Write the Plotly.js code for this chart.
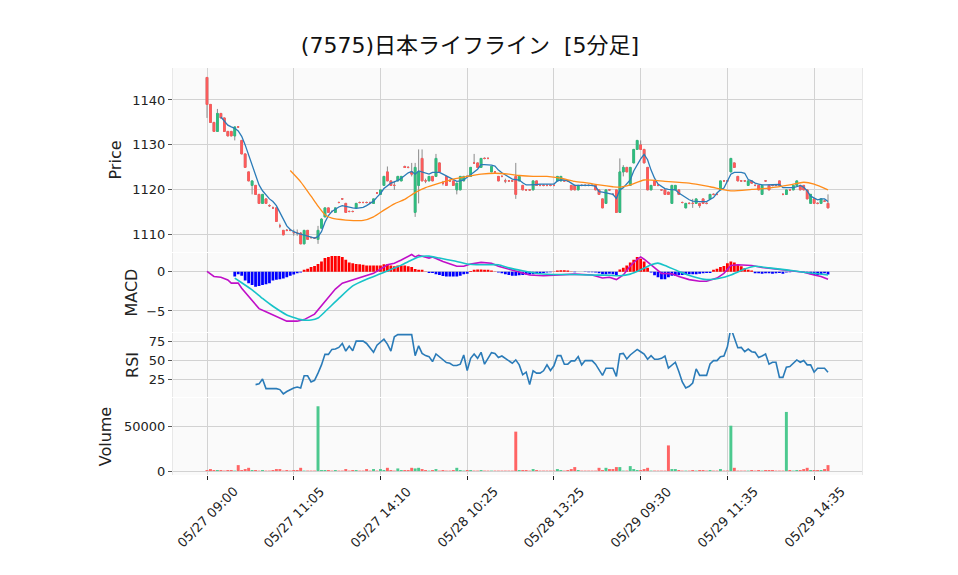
<!DOCTYPE html>
<html>
<head>
<meta charset="utf-8">
<script src="https://cdn.plot.ly/plotly-3.0.1.min.js"></script>
<style>
html, body { margin: 0; padding: 0; background: #fff; }
#chart { width: 958px; height: 575px; }
</style>
</head>
<body>
<div id="chart"></div>
<script>
// 5-minute bars, 05/27 09:00 .. 05/29 close (180 bars, x = bar index)
const tickIdx = [0, 25, 50, 75, 100, 125, 150, 175];
const tickText = ['05/27 09:00', '05/27 11:05', '05/27 14:10', '05/28 10:25',
                  '05/28 13:25', '05/29 09:30', '05/29 11:35', '05/29 14:35'];

const open = [
  1145, 1139, 1135, 1133, 1137, 1136, 1133, 1133, 1132, 1134,
  1131, 1128, 1124, 1121, 1121, 1119, 1117, 1118, 1116.5, 1116,
  1116, 1112, 1111, 1111, 1111, 1110.5, 1110.5, 1110.4, 1108, 1111,
  1109.4, 1109.3, 1109, 1111.5, 1114, 1116, 1115.2, 1115, 1117.2, 1118,
  1117, 1115.2, 1115.2, 1116, 1117.2, 1117.2, 1117.2, 1117.2, 1117, 1119.3,
  1119, 1121, 1124, 1122, 1121, 1122, 1122, 1125.2, 1125, 1124,
  1115, 1121, 1127, 1122, 1122, 1123, 1123, 1126, 1121.5, 1123,
  1122, 1122, 1120, 1120, 1122, 1123, 1123, 1126, 1126, 1125,
  1127, 1127, 1124, 1124, 1123, 1123, 1122, 1122, 1122, 1123,
  1122, 1121, 1120, 1120, 1120, 1122, 1121, 1121, 1121, 1121,
  1121, 1122, 1122, 1122, 1122, 1121, 1121, 1120, 1121, 1121,
  1121, 1121, 1121, 1120, 1118, 1117, 1120, 1119, 1120, 1115,
  1124, 1125, 1121, 1126, 1129, 1130, 1129, 1125, 1120, 1122,
  1121, 1120, 1120, 1119.5, 1117, 1120, 1120, 1117.2, 1116, 1117,
  1117, 1117, 1117, 1118, 1117, 1118, 1119, 1119, 1120, 1122,
  1122, 1124, 1126, 1123, 1122, 1122, 1121, 1122, 1121, 1121,
  1119, 1122, 1121, 1121, 1121, 1122, 1119, 1119, 1120, 1120,
  1121, 1121, 1121, 1120, 1117, 1118, 1117, 1117, 1117.5, 1117
];
const close = [
  1139, 1135, 1133, 1137, 1136, 1133, 1132, 1132, 1134, 1134,
  1128, 1125, 1122, 1122, 1119, 1117, 1119, 1117, 1116.5, 1116,
  1113, 1112, 1110, 1111, 1111, 1110.5, 1110.5, 1108, 1111, 1109,
  1109.4, 1109.3, 1111, 1113.5, 1116, 1115, 1115.2, 1116, 1117.2, 1118,
  1115, 1115.2, 1115.2, 1117, 1117.2, 1117.2, 1117.2, 1117.2, 1118, 1119.3,
  1120, 1123, 1122, 1121, 1121, 1123, 1123, 1125, 1125, 1123.5,
  1125, 1124, 1122, 1122, 1123, 1122, 1127, 1124, 1121.5, 1121,
  1122, 1121, 1121.5, 1123, 1123, 1123, 1125, 1126, 1125, 1127,
  1127, 1127, 1125.2, 1124, 1122, 1123, 1122, 1122, 1122, 1119,
  1123, 1120, 1120, 1120, 1122, 1121, 1121, 1121, 1121, 1121,
  1121, 1123, 1123, 1122, 1122, 1120, 1120, 1121, 1121, 1121,
  1121, 1121, 1120, 1119, 1116, 1120, 1120, 1119, 1115, 1124,
  1125, 1124, 1125, 1129, 1131, 1129, 1126, 1120, 1121, 1121,
  1121, 1120, 1119, 1119, 1121, 1121, 1119, 1117.2, 1117, 1117,
  1117, 1118, 1116.5, 1117, 1117, 1119, 1119, 1119, 1122, 1122,
  1122, 1127, 1125, 1122, 1122, 1122, 1122, 1121.5, 1121, 1120,
  1121, 1122, 1120, 1121, 1121, 1121, 1119, 1120, 1120, 1121,
  1122, 1120, 1120, 1118, 1119, 1117, 1117, 1118, 1117.5, 1116
];
const high = [
  1145.1, 1139, 1135, 1138, 1137, 1136, 1133, 1133, 1134, 1134.2,
  1131, 1128, 1124, 1122, 1121, 1119, 1119, 1118, 1116.8, 1116.3,
  1116, 1112.5, 1111, 1111.3, 1111.3, 1111.2, 1111.2, 1110.6, 1111, 1111,
  1109.6, 1109.5, 1112, 1113.7, 1116, 1116, 1115.4, 1116, 1117.4, 1118.2,
  1117, 1115.4, 1115.4, 1117, 1117.4, 1117.4, 1117.4, 1117.4, 1118, 1119.5,
  1120, 1123, 1125.2, 1122, 1122, 1123, 1123, 1125.4, 1125.2, 1126,
  1126, 1129, 1129, 1122.5, 1123, 1123, 1128, 1126, 1122, 1123,
  1122.3, 1122, 1121.5, 1123, 1123, 1123.2, 1125, 1128, 1126, 1127,
  1127.2, 1127.2, 1125.2, 1124.2, 1123, 1123.2, 1122.5, 1122.2, 1122.2, 1126,
  1123, 1121, 1120.2, 1120.2, 1122, 1122, 1121.2, 1121.2, 1121.2, 1121.2,
  1121.2, 1123, 1123, 1122.2, 1122.2, 1121, 1121, 1121, 1121.2, 1121.2,
  1121.2, 1121.2, 1121, 1120, 1118, 1120, 1120.2, 1119.2, 1120, 1127,
  1125.5, 1125, 1125, 1129, 1131, 1131, 1129, 1125, 1121, 1122,
  1121.2, 1120.2, 1120, 1119.5, 1121, 1121, 1120, 1117.4, 1117, 1117.2,
  1118, 1118, 1117, 1118, 1117.2, 1119, 1119.2, 1119.2, 1122, 1122.2,
  1122.2, 1127, 1126, 1123, 1122.2, 1122.2, 1122, 1122, 1121.2, 1121,
  1121, 1122.2, 1121, 1121.2, 1121.2, 1122, 1119.2, 1120, 1120.2, 1121,
  1122, 1121, 1121, 1120, 1119, 1118, 1117.2, 1118, 1117.7, 1119
];
const low = [
  1136, 1135, 1133, 1133, 1136, 1133, 1132, 1132, 1131, 1133.8,
  1128, 1125, 1122, 1119, 1119, 1117, 1117, 1117, 1116.2, 1115.8,
  1113, 1111.5, 1110, 1110.8, 1110.8, 1109.8, 1109.8, 1108, 1108, 1109,
  1109.2, 1109.1, 1108, 1111.5, 1114, 1115, 1115, 1115, 1117, 1117.8,
  1115, 1115, 1115, 1116, 1117, 1117, 1117, 1117, 1117, 1119.1,
  1119, 1121, 1122, 1121, 1120, 1122, 1122, 1125, 1124.8, 1123,
  1114, 1117, 1122, 1121.5, 1122, 1122, 1123, 1124, 1121, 1121,
  1121.8, 1121, 1119, 1120, 1122, 1122.8, 1123, 1125.8, 1125, 1125,
  1126.8, 1126.8, 1124, 1123.8, 1122, 1122.8, 1121.5, 1121.8, 1121.8, 1118,
  1122, 1120, 1119.8, 1119.8, 1120, 1121, 1120.8, 1120.8, 1120.8, 1120.8,
  1120.8, 1122, 1122, 1121.8, 1121.8, 1120, 1120, 1120, 1120.8, 1120.8,
  1120.8, 1120.8, 1120, 1119, 1116, 1117, 1119.8, 1118.8, 1115, 1115,
  1123, 1124, 1121, 1126, 1129, 1129, 1126, 1120, 1120, 1121,
  1120.8, 1119.8, 1119, 1119, 1117, 1120, 1119, 1117, 1116, 1116.8,
  1116, 1117, 1116, 1117, 1116.8, 1118, 1118.8, 1118.8, 1120, 1121.8,
  1121.8, 1124, 1125, 1122, 1121.8, 1121.8, 1121, 1121.5, 1120.8, 1120,
  1119, 1121.8, 1120, 1120.8, 1120.8, 1121, 1118.8, 1119, 1119.8, 1120,
  1121, 1120, 1120, 1118, 1117, 1117, 1116.8, 1117, 1117.3, 1116
];

// moving averages (5 and 25 bars)
const ma5 = [
  null, null, null, null, 1136.2, 1135.2, 1134.4, 1134.0, 1133.7, 1133.1,
  1131.9, 1130.0, 1127.8, 1125.6, 1123.3, 1121.1, 1119.8, 1118.8, 1118.0, 1117.4,
  1116.5, 1115.0, 1113.3, 1112.0, 1111.2, 1110.7, 1110.4, 1110.2, 1110.0, 1109.8,
  1109.5, 1109.3, 1109.6, 1110.7, 1112.8, 1114.3, 1115.2, 1115.8, 1116.2, 1116.5,
  1116.3, 1116.1, 1116.0, 1115.9, 1116.0, 1116.1, 1116.5, 1117.0, 1117.5, 1118.4,
  1119.2, 1120.3, 1121.0, 1121.5, 1121.8, 1122.1, 1122.6, 1123.3, 1123.8, 1124.1,
  1123.5, 1124.2, 1124.0, 1123.8, 1123.5, 1123.9, 1123.9, 1123.9, 1123.5, 1123.1,
  1122.6, 1122.2, 1121.9, 1122.0, 1122.2, 1122.8, 1123.3, 1124.0, 1124.6, 1125.6,
  1125.6, 1125.6, 1125.5, 1125.3, 1124.4, 1123.8, 1123.3, 1122.8, 1122.4, 1122.3,
  1122.2, 1121.6, 1121.1, 1121.1, 1121.1, 1121.2, 1121.3, 1121.3, 1121.3, 1121.3,
  1121.3, 1122.0, 1122.2, 1122.2, 1122.0, 1121.5, 1121.0, 1121.0, 1121.0, 1121.0,
  1121.0, 1121.0, 1120.8, 1119.6, 1119.5, 1119.3, 1119.2, 1119.0, 1118.1, 1120.0,
  1120.5, 1121.3, 1122.2, 1124.2, 1125.6, 1126.9, 1127.9, 1126.7, 1124.4, 1122.6,
  1121.3, 1120.7, 1120.3, 1120.1, 1120.0, 1120.0, 1119.3, 1118.8, 1118.3, 1117.8,
  1117.5, 1117.4, 1117.4, 1117.4, 1117.4, 1117.9, 1118.3, 1119.3, 1120.0, 1120.4,
  1122.0, 1123.5, 1123.9, 1123.9, 1123.9, 1123.7, 1122.3, 1122.0, 1121.5, 1121.3,
  1121.1, 1121.1, 1121.1, 1121.1, 1121.2, 1121.2, 1120.5, 1120.5, 1120.5, 1120.5,
  1120.7, 1121.0, 1120.6, 1119.8, 1118.6, 1118.2, 1117.8, 1118.0, 1118.0, 1117.4
];
const ma25Idx = [24, 27, 30, 32, 34, 36, 40, 45, 48, 51, 54, 57, 60, 63, 67, 71, 75, 79, 83, 87,
                 90, 94, 98, 102, 106, 110, 113, 117, 119, 122, 126, 132, 139, 145, 151, 157, 162, 168, 172, 175, 179];
const ma25 = [1124.3, 1121.8, 1118.6, 1116.4, 1114.5, 1113.7, 1113.3, 1113.2, 1114.0, 1115.5,
              1116.9, 1117.9, 1119.4, 1120.5, 1121.5, 1122.4, 1123.0, 1123.5, 1123.7, 1123.5,
              1123.2, 1123.0, 1123.0, 1122.6, 1121.9, 1121.5, 1121.1, 1120.7, 1120.6, 1121.1,
              1122.2, 1121.9, 1121.5, 1120.7, 1119.8, 1120.1, 1120.4, 1121.1, 1121.7, 1121.3, 1120.0];

// MACD panel
const macdIdx = [0, 2, 4, 6, 7, 9, 10, 13, 15, 17, 20, 23, 26, 28, 31, 34, 37, 39, 42, 45,
                 48, 52, 54, 56, 59, 60, 61, 64, 65, 68, 72, 74, 76, 79, 82, 84, 88, 93, 97, 101,
                 106, 111, 114, 116, 118, 120, 122, 124, 125, 126, 128, 131, 134, 136, 139, 142, 144, 147, 149, 151,
                 153, 157, 160, 164, 168, 172, 175, 177, 179];
const macd = [0.05, -0.6, -0.7, -1.05, -1.45, -1.45, -2.1, -3.7, -4.7, -5.1, -5.7, -6.3, -6.3, -6.1, -5.4, -3.8, -2.2, -1.45, -1.0, -0.6,
              -0.2, 0.9, 1.1, 1.5, 2.2, 1.9, 2.1, 1.75, 1.9, 1.3, 0.7, 0.7, 1.0, 1.2, 1.1, 0.7, 0.25, -0.4, -0.5, -0.4,
              -0.3, -0.4, -0.8, -0.7, -1.0, -0.4, 0.75, 1.6, 1.9, 1.6, 0.9, -0.2, -0.25, -0.6, -1.0, -1.2, -1.2, -0.8, -0.2, 0.8,
              0.9, 0.8, 0.55, 0.35, 0.17, -0.05, -0.4, -0.6, -0.95];
const signalIdx = [8, 10, 13, 16, 19, 23, 27, 30, 32, 34, 38, 42, 46, 50, 54, 56, 59, 61, 64, 67,
                   71, 75, 79, 84, 87, 91, 96, 101, 106, 110, 116, 119, 122, 125, 128, 130, 132, 136, 140, 144,
                   148, 151, 155, 158, 162, 167, 172, 176, 179];
const signal = [-0.8, -1.4, -2.3, -3.4, -4.4, -5.5, -6.1, -6.15, -5.9, -5.1, -3.4, -1.8, -0.95, -0.25, 0.47, 0.85, 1.5, 1.9, 2.0, 1.75,
                1.4, 1.0, 0.9, 0.9, 0.5, 0.13, -0.25, -0.35, -0.35, -0.4, -0.45, -0.5, -0.3, 0.25, 0.9, 1.1, 0.8, 0.05, -0.6, -1.0,
                -0.8, -0.4, 0.35, 0.7, 0.5, 0.25, -0.05, -0.25, -0.4];
const hist = [
  null, null, null, null, null, null, null, null, -0.6, -0.3,
  -0.5, -1.1, -1.45, -1.7, -1.9, -1.8, -1.7, -1.6, -1.45, -1.1,
  -1.0, -0.95, -0.85, -0.7, -0.5, -0.35, -0.2, -0.1, 0.25, 0.4,
  0.6, 0.75, 1.0, 1.3, 1.75, 1.9, 2.0, 2.0, 2.0, 1.9,
  1.55, 1.2, 1.1, 1.0, 0.95, 0.9, 0.8, 0.8, 0.8, 0.8,
  0.8, 0.95, 0.95, 0.8, 0.7, 0.8, 0.8, 0.8, 0.7, 0.6,
  0.35, 0.25, 0.25, 0.05, -0.15, -0.15, -0.3, -0.4, -0.55, -0.6,
  -0.6, -0.6, -0.6, -0.5, -0.3, -0.25, 0.1, 0.25, 0.3, 0.3,
  0.25, 0.25, 0.15, 0.05, -0.1, -0.2, -0.3, -0.4, -0.5, -0.5,
  -0.45, -0.4, -0.35, -0.35, -0.3, -0.25, -0.2, -0.15, -0.1, -0.05,
  0.05, 0.15, 0.2, 0.2, 0.15, 0.05, -0.05, 0.02, 0.02, -0.02,
  -0.05, -0.05, -0.1, -0.2, -0.3, -0.3, -0.25, -0.3, -0.4, 0.3,
  0.5, 0.8, 1.2, 1.55, 1.9, 1.65, 1.3, 0.5, -0.1, -0.45,
  -0.7, -0.95, -0.95, -0.7, -0.5, -0.5, -0.45, -0.4, -0.35, -0.3,
  -0.3, -0.3, -0.25, -0.2, -0.15, -0.15, 0.25, 0.4, 0.6, 0.75,
  1.1, 1.3, 1.2, 0.9, 0.7, 0.45, 0.25, 0.15, -0.2, -0.2,
  -0.25, -0.2, -0.2, -0.25, -0.2, -0.15, -0.25, -0.1, -0.05, 0.02,
  0.02, -0.02, -0.05, -0.1, -0.3, -0.4, -0.4, -0.3, -0.2, -0.35
];

// RSI (14)
const rsi = [
  null, null, null, null, null, null, null, null, null, null,
  null, null, null, null, 18, 19, 25.4, 12.7, 12.7, 12.7,
  12.7, 11.4, 5.7, 8.8, 11.4, 13.6, 14.9, 13.6, 29.8, 29.8,
  21.5, 23.7, 33.3, 44.3, 58.3, 58.3, 64.9, 65.4, 67.5, 72.8,
  62.7, 69.3, 63.2, 75.9, 75.9, 75.9, 72.8, 67.5, 61, 70.6,
  74.1, 78.5, 71.9, 62.7, 81.6, 84.6, 84.6, 84.6, 84.6, 84.6,
  56.6, 69.7, 59.6, 56.6, 55.3, 48.7, 58.8, 55.3, 51.8, 47.4,
  46.5, 43.4, 43.4, 45.2, 57.5, 36.8, 53, 58.8, 53, 61,
  45.2, 53, 60.5, 59.6, 54, 56.1, 53, 50, 46.5, 50.9,
  44.3, 31.1, 34.6, 18, 36.4, 33.3, 33.3, 36.4, 44.3, 36.8,
  43, 56.6, 56.6, 45.2, 45.2, 49.6, 49.6, 55.3, 44.3, 50,
  50, 50, 45.2, 38.6, 30.3, 39.9, 39.9, 39.9, 29, 58.8,
  59.6, 52.2, 57.5, 61.8, 64.9, 61.8, 58.8, 51.8, 56.6, 51.8,
  51.8, 53, 56.1, 39.9, 43.4, 47.8, 35.5, 21.5, 13.6, 15.8,
  20.2, 39, 30.3, 30.3, 30.3, 45.6, 50, 50, 55.3, 56.1,
  68.4, 93.4, 81.6, 67.1, 67.5, 61.8, 65.4, 61.8, 61, 54,
  56.1, 58.8, 45.2, 47.8, 47.8, 27.6, 27.6, 41.2, 42.1, 46.5,
  50.9, 47.8, 50, 44.3, 44.3, 34.6, 39.9, 39.9, 39.9, 34.6
];

// volume (shares)
const volume = [
  1100, 2200, 1100, 1100, 1100, 500, 1100, 1100, 500, 6600,
  1100, 2200, 3600, 1100, 1100, 500, 1100, 500, 500, 1100,
  2200, 2200, 500, 1100, 500, 1100, 1100, 3600, 500, 500,
  500, 500, 72000, 1100, 1100, 1100, 500, 1100, 500, 500,
  2200, 500, 1100, 1100, 500, 500, 2200, 500, 2200, 500,
  2200, 1100, 3600, 1100, 500, 2900, 1100, 1100, 1100, 3600,
  2900, 3600, 2200, 1100, 500, 1100, 2200, 500, 1100, 500,
  500, 1100, 3600, 1100, 500, 1100, 1100, 500, 500, 1100,
  500, 500, 500, 500, 500, 500, 500, 500, 500, 43800,
  1100, 1100, 1100, 500, 2200, 1100, 500, 500, 500, 500,
  500, 2200, 1100, 500, 1100, 2200, 4400, 1100, 500, 500,
  500, 500, 500, 3600, 1100, 3600, 2200, 2200, 4400, 4400,
  500, 500, 5500, 2200, 1100, 1100, 2200, 3600, 500, 500,
  500, 500, 500, 28500, 2200, 2200, 1100, 500, 500, 500,
  1100, 500, 1100, 1100, 500, 1100, 500, 500, 2200, 500,
  500, 50400, 3600, 500, 500, 500, 500, 1100, 500, 1100,
  500, 1100, 1100, 1100, 500, 500, 500, 65700, 1100, 500,
  1100, 1100, 2200, 3600, 1100, 1100, 1100, 1100, 2200, 6600
];

const UP = '#2ebd7f';
const DOWN = '#ff5a5a';
const UP_VOL = '#4cc98f';
const DOWN_VOL = '#ff6464';

const idx = close.map((_, i) => i);
const isUp = close.map((c, i) => c > open[i]);

// bodies split by direction so every doji keeps the down colour
function bodyTrace(up) {
  const col = up ? UP : DOWN;
  return {
    type: 'candlestick', x: idx, xaxis: 'x', yaxis: 'y',
    open: open.map((o, i) => isUp[i] === up ? o : null),
    close: close.map((c, i) => isUp[i] === up ? c : null),
    high: close.map((c, i) => isUp[i] === up ? Math.max(c, open[i]) : null),
    low: close.map((c, i) => isUp[i] === up ? Math.min(c, open[i]) : null),
    increasing: {line: {color: col, width: 1}, fillcolor: col},
    decreasing: {line: {color: col, width: 1}, fillcolor: col},
    whiskerwidth: 0, hoverinfo: 'skip', showlegend: false
  };
}

const traces = [
  {
    type: 'candlestick', x: idx, open: open, high: high, low: low, close: close,
    xaxis: 'x', yaxis: 'y',
    increasing: {line: {color: '#8a8a8a', width: 1}, fillcolor: '#8a8a8a'},
    decreasing: {line: {color: '#8a8a8a', width: 1}, fillcolor: '#8a8a8a'},
    whiskerwidth: 0, hoverinfo: 'skip', showlegend: false
  },
  bodyTrace(true),
  bodyTrace(false),
  {type: 'scatter', mode: 'lines', x: idx, y: ma5, xaxis: 'x', yaxis: 'y',
   line: {color: '#2a7bb8', width: 1.3}, connectgaps: false},
  {type: 'scatter', mode: 'lines', x: ma25Idx, y: ma25, xaxis: 'x', yaxis: 'y',
   line: {color: '#ff8c1a', width: 1.3, shape: 'spline', smoothing: 0.6}},
  {type: 'bar', x: idx, y: hist, xaxis: 'x', yaxis: 'y2', width: 0.8,
   marker: {color: hist.map(v => v !== null && v >= 0 ? '#ff0000' : '#0000ff'), line: {width: 0}}},
  {type: 'scatter', mode: 'lines', x: macdIdx, y: macd, xaxis: 'x', yaxis: 'y2',
   line: {color: '#c010c8', width: 1.6}},
  {type: 'scatter', mode: 'lines', x: signalIdx, y: signal, xaxis: 'x', yaxis: 'y2',
   line: {color: '#17c3c8', width: 1.6, shape: 'spline', smoothing: 0.5}},
  {type: 'scatter', mode: 'lines', x: idx, y: rsi, xaxis: 'x', yaxis: 'y3',
   line: {color: '#2a7bb8', width: 1.6}},
  {type: 'bar', x: idx, y: volume, xaxis: 'x', yaxis: 'y4', width: 0.85,
   marker: {color: isUp.map(u => u ? UP_VOL : DOWN_VOL), line: {width: 0}}}
];

// x tick labels: rotated 45 degrees and centred under each tick
const tickLabels = tickIdx.map((v, k) => ({
  x: v, xref: 'x', y: 0, yref: 'paper', yanchor: 'top', xanchor: 'center',
  yshift: -6, text: tickText[k], textangle: -45, showarrow: false,
  font: {size: 13, color: '#222'}
}));

const gridCol = '#d2d2d2';
const baseY = {
  showgrid: true, gridcolor: gridCol, gridwidth: 1, zeroline: false,
  ticks: 'outside', ticklen: 4, tickcolor: '#555', tickfont: {size: 13, color: '#222'},
  showline: true, mirror: true, linecolor: '#e8e8e8', linewidth: 1, fixedrange: true
};

const layout = {
  width: 958, height: 575,
  margin: {l: 173, r: 96, t: 68, b: 100},
  paper_bgcolor: '#ffffff', plot_bgcolor: '#fafafa',
  showlegend: false,
  font: {family: 'DejaVu Sans, "Noto Sans CJK JP", sans-serif', size: 13, color: '#222'},
  title: {
    text: '(7575)日本ライフライン \u00a0[5分足]',
    x: 470 / 958, xanchor: 'center', y: 1 - 45 / 575, yanchor: 'middle',
    font: {size: 22, color: '#111'}
  },
  boxgap: 0.3,
  annotations: tickLabels,
  xaxis: {
    range: [-9.8, 188.8], tickmode: 'array', tickvals: tickIdx, showticklabels: false,
    showgrid: true, gridcolor: gridCol, zeroline: false,
    ticks: 'outside', ticklen: 4, tickcolor: '#222',
    rangeslider: {visible: false}, anchor: 'y4', showline: false, fixedrange: true
  },
  yaxis: Object.assign({}, baseY, {
    domain: [0.548, 1], range: [1106.2, 1147.1], tickvals: [1110, 1120, 1130, 1140],
    title: {text: 'Price', standoff: 6}
  }),
  yaxis2: Object.assign({}, baseY, {
    domain: [0.351, 0.5455], range: [-7.7, 2.4], tickvals: [-5, 0], ticktext: ['\u22125', '0'],
    title: {text: 'MACD', standoff: 4}
  }),
  yaxis3: Object.assign({}, baseY, {
    domain: [0.1916, 0.349], range: [1.5, 86.8], tickvals: [25, 50, 75],
    title: {text: 'RSI', standoff: 6}
  }),
  yaxis4: Object.assign({}, baseY, {
    domain: [0, 0.189], range: [-4400, 81100], tickvals: [0, 50000], ticktext: ['0', '50000'],
    title: {text: 'Volume', standoff: 8}
  })
};

Plotly.newPlot('chart', traces, layout, {staticPlot: true, displayModeBar: false});
</script>
</body>
</html>
